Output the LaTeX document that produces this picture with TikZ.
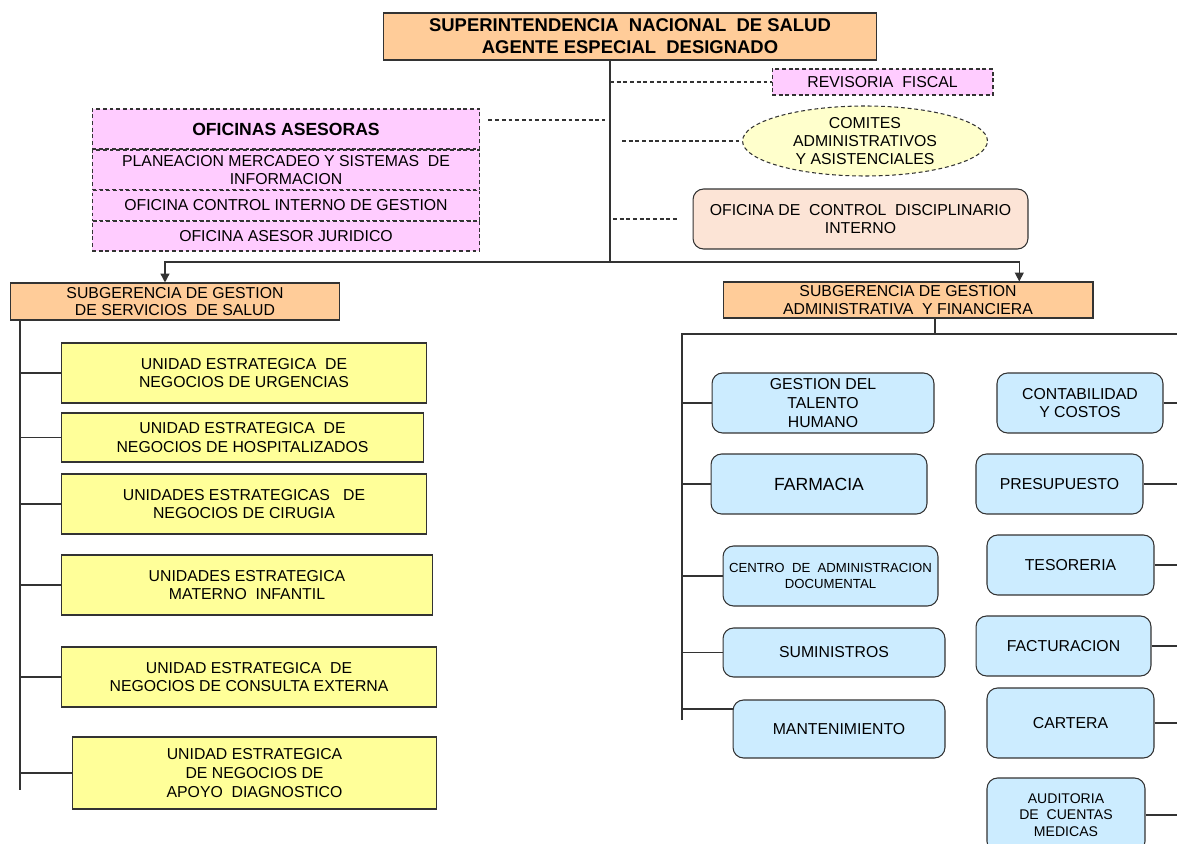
\documentclass[tikz,border=0pt]{standalone}
\usepackage{fontspec}
\setmainfont{Liberation Sans}
\usepackage{xcolor}
\usetikzlibrary{shapes.geometric, arrows.meta, positioning, calc}

\definecolor{peach}{HTML}{FFCC99}
\definecolor{pinkbox}{HTML}{FFCCFF}
\definecolor{paleyellow}{HTML}{FFFFCC}
\definecolor{unityellow}{HTML}{FFFF99}
\definecolor{skyblue}{HTML}{CCECFF}
\definecolor{paleorange}{HTML}{FCE4D6}
\definecolor{edge}{HTML}{333333}

\begin{document}
\begin{tikzpicture}[
    x=0.02cm, y=-0.02cm,
    box/.style={draw=edge, line width=0.6pt, align=center, inner sep=1pt, font=\fontsize{9}{10.6}\selectfont},
    head/.style={box, fill=peach},
    office/.style={box, fill=pinkbox, dash pattern=on 2.2pt off 1.6pt, minimum width=7.76cm},
    unit/.style={box, fill=unityellow},
    area/.style={box, fill=skyblue, rounded corners=6pt},
    link/.style={draw=edge, line width=0.8pt},
    dlink/.style={draw=edge, line width=0.6pt, dash pattern=on 2.2pt off 1.6pt},
    arrow/.style={link, -{Triangle[length=5pt, width=5pt]}}
]
    \useasboundingbox (0,0) rectangle (1177,844);
    \clip (0,0) rectangle (1177,844);

    % Direccion
    \node[head, minimum width=9.88cm, minimum height=0.94cm, font=\fontsize{10.5}{12.5}\selectfont\bfseries] (super) at (630,36.5) {SUPERINTENDENCIA~ NACIONAL~ DE SALUD\\AGENTE ESPECIAL~ DESIGNADO};
    \coordinate (trunk) at (610,262);

    % Organos de control y apoyo
    \node[box, fill=pinkbox, dash pattern=on 2.2pt off 1.6pt, minimum width=4.42cm, minimum height=0.52cm] (revisor) at (882.5,82) {REVISORIA~ FISCAL};
    \node[box, ellipse, fill=paleyellow, dash pattern=on 2.2pt off 1.6pt, inner sep=0pt, minimum width=4.9cm, minimum height=1.4cm, font=\fontsize{9}{10}\selectfont] (comites) at (865,141) {COMITES\\ADMINISTRATIVOS\\Y ASISTENCIALES};
    \node[box, fill=paleorange, rounded corners=6pt, minimum width=6.7cm, minimum height=1.2cm] (disciplina) at (860.5,219) {OFICINA DE~ CONTROL~ DISCIPLINARIO\\INTERNO};

    % Oficinas asesoras
    \node[office, minimum height=0.8cm, font=\fontsize{10}{12}\selectfont\bfseries] (asesoras) at (286,129) {OFICINAS ASESORAS};
    \node[office, minimum height=0.8cm] (planeacion) at (286,170) {PLANEACION MERCADEO Y SISTEMAS~ DE\\INFORMACION};
    \node[office, minimum height=0.6cm] (control) at (286,205.5) {OFICINA CONTROL INTERNO DE GESTION};
    \node[office, minimum height=0.6cm] (juridico) at (286,236) {OFICINA ASESOR JURIDICO};

    % Subgerencias
    \node[head, minimum width=6.6cm, minimum height=0.74cm, font=\fontsize{9}{10}\selectfont] (subsalud) at (175,301.5) {SUBGERENCIA DE GESTION\\DE SERVICIOS~ DE SALUD};
    \node[head, minimum width=7.4cm, minimum height=0.72cm, font=\fontsize{9}{10}\selectfont] (subadmin) at (908,300) {SUBGERENCIA DE GESTION\\ADMINISTRATIVA~ Y FINANCIERA};

    % Unidades estrategicas
    \node[unit, minimum width=7.32cm, minimum height=1.2cm] (urgencias) at (244,373) {UNIDAD ESTRATEGICA~ DE\\NEGOCIOS DE URGENCIAS};
    \node[unit, minimum width=7.26cm, minimum height=0.98cm] (hospital) at (242.5,437.5) {UNIDAD ESTRATEGICA~ DE\\NEGOCIOS DE HOSPITALIZADOS};
    \node[unit, minimum width=7.32cm, minimum height=1.2cm] (cirugia) at (244,504) {UNIDADES ESTRATEGICAS~~ DE\\NEGOCIOS DE CIRUGIA};
    \node[unit, minimum width=7.44cm, minimum height=1.2cm] (materno) at (247,585) {UNIDADES ESTRATEGICA\\MATERNO~ INFANTIL};
    \node[unit, minimum width=7.52cm, minimum height=1.2cm] (consulta) at (249,677) {UNIDAD ESTRATEGICA~ DE\\NEGOCIOS DE CONSULTA EXTERNA};
    \node[unit, minimum width=7.3cm, minimum height=1.44cm] (apoyo) at (254.5,773) {UNIDAD ESTRATEGICA\\DE NEGOCIOS DE\\APOYO~ DIAGNOSTICO};

    % Areas administrativas
    \node[area, minimum width=4.44cm, minimum height=1.2cm] (talento) at (823,403) {GESTION DEL\\TALENTO\\HUMANO};
    \node[area, minimum width=4.32cm, minimum height=1.2cm, font=\fontsize{10}{12}\selectfont] (farmacia) at (819,484) {FARMACIA};
    \node[area, minimum width=4.3cm, minimum height=1.2cm, inner sep=0pt, font=\fontsize{7.5}{9.5}\selectfont] (documental) at (830.5,576) {CENTRO~ DE~ ADMINISTRACION\\DOCUMENTAL};
    \node[area, minimum width=4.44cm, minimum height=0.98cm] (suministros) at (834,652.5) {SUMINISTROS};
    \node[area, minimum width=4.24cm, minimum height=1.16cm] (mantenimiento) at (839,729) {MANTENIMIENTO};

    \node[area, minimum width=3.32cm, minimum height=1.2cm] (contabilidad) at (1080,403) {CONTABILIDAD\\Y COSTOS};
    \node[area, minimum width=3.34cm, minimum height=1.2cm] (presupuesto) at (1059.5,484) {PRESUPUESTO};
    \node[area, minimum width=3.34cm, minimum height=1.2cm] (tesoreria) at (1070.5,565) {TESORERIA};
    \node[area, minimum width=3.5cm, minimum height=1.2cm] (facturacion) at (1063.5,646) {FACTURACION};
    \node[area, minimum width=3.34cm, minimum height=1.4cm] (cartera) at (1070.5,723) {CARTERA};
    \node[area, minimum width=3.16cm, minimum height=1.48cm, font=\fontsize{8}{9.5}\selectfont] (auditoria) at (1066,815) {AUDITORIA\\DE~ CUENTAS\\MEDICAS};

    % Linea de mando
    \draw[link] (super.south -| trunk) -- (trunk);
    \draw[arrow] (trunk) -| ($(subsalud.north)+(-10,0)$);
    \draw[arrow] (trunk) -| ($(subadmin.north west)!0.8!(subadmin.north east)$);

    % Staff (lineas punteadas)
    \draw[dlink] (revisor.west -| trunk) -- (revisor.west);
    \draw[dlink] ($(comites.west -| trunk)+(12,0)$) -- (comites.west);
    \draw[dlink] ($(disciplina.west -| trunk)+(3,0)$) -- ($(disciplina.west)+(-13,0)$);
    \draw[dlink] ($(asesoras.east)+(8,-9)$) -- ($(asesoras.east -| trunk)+(-5,-9)$);

    % Rama asistencial
    \coordinate (lbus) at (20,790);
    \draw[link] (subsalud.south west -| lbus) -- (lbus);
    \foreach \u in {urgencias, hospital, cirugia, materno, consulta, apoyo}
        \draw[link] (\u.west -| lbus) -- (\u.west);

    % Rama administrativa
    \coordinate (abus) at (682,334);
    \coordinate (abusend) at (682,720);
    \coordinate (rbus) at (1190,334);
    \path ($(subadmin.south west)!0.573!(subadmin.south east)$) coordinate (drop);
    \draw[link] (drop) -- (drop |- abus);
    \draw[link] (abusend) -- (abus) -- (rbus);
    \foreach \g in {talento, farmacia, documental, suministros}
        \draw[link] (\g.west -| abus) -- (\g.west);
    \path ($(mantenimiento.north west)!0.16!(mantenimiento.south west)$) coordinate (mant-in);
    \draw[link] (mant-in -| abus) -- (mant-in);
    \foreach \c in {contabilidad, presupuesto, tesoreria, facturacion, cartera, auditoria}
        \draw[link] (\c.east) -- (\c.east -| rbus);
\end{tikzpicture}
\end{document}
